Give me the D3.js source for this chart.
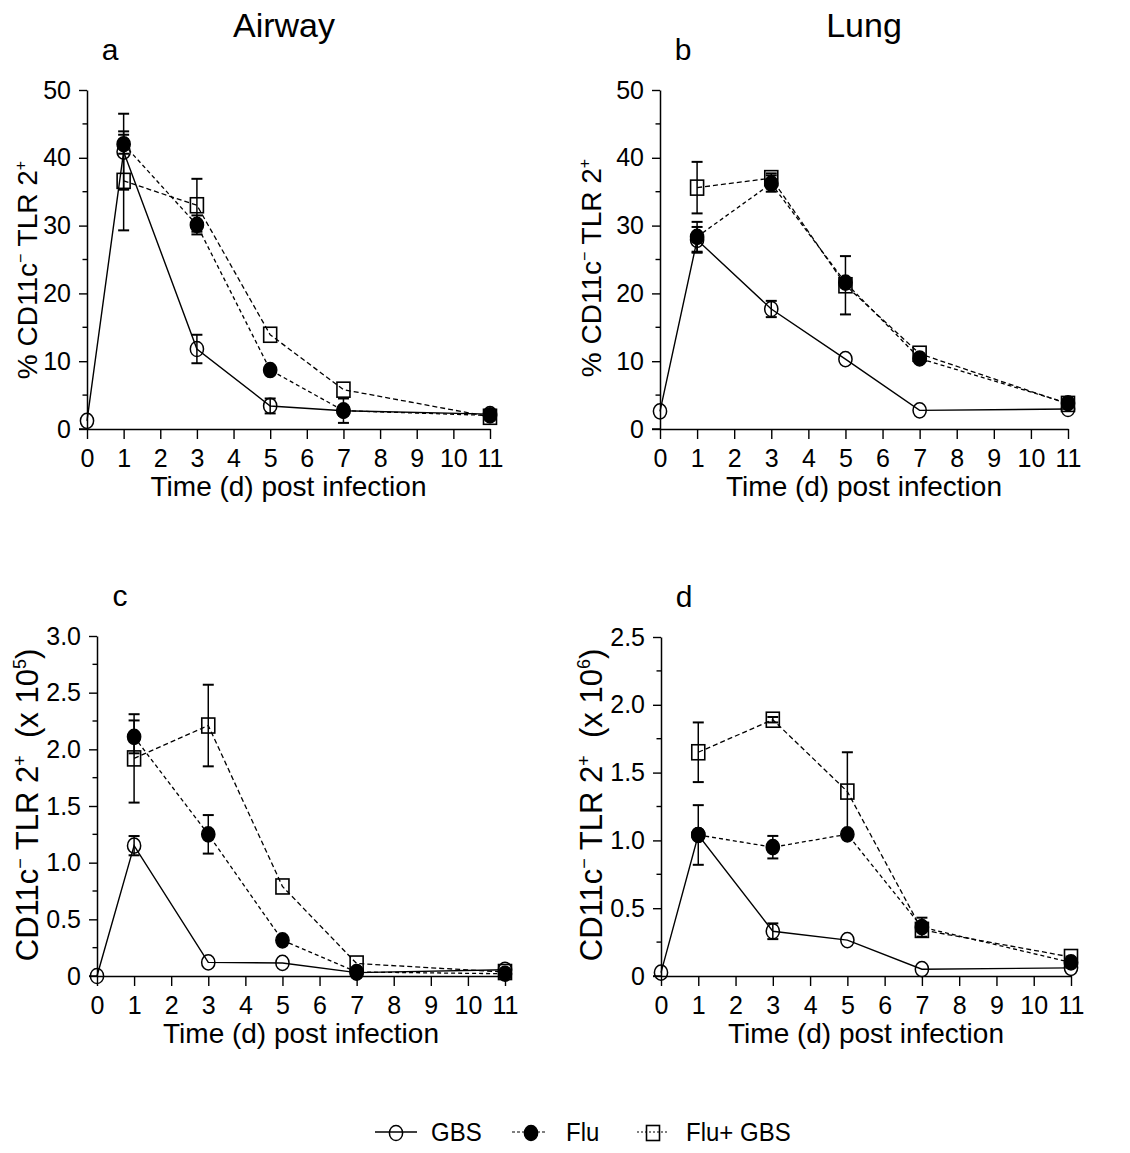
<!DOCTYPE html>
<html>
<head>
<meta charset="utf-8">
<script src="https://cdn.jsdelivr.net/npm/d3@7"></script>
<style>
  html, body { margin: 0; padding: 0; background: #fff; }
  svg { display: block; }
  text { font-family: "Liberation Sans", Arial, Helvetica, sans-serif; fill: #000; }
</style>
</head>
<body>
<svg id="chart" width="1130" height="1153"></svg>
<script>
// Sampling days
const daysGBS = [0, 1, 3, 5, 7, 11];
const daysFlu = [1, 3, 5, 7, 11];
const xTicks = [0, 1, 2, 3, 4, 5, 6, 7, 8, 9, 10, 11];

// a: airway, % CD11c- TLR2+
const airwayPctGBS = [1.2, 40.9, 11.8, 3.4, 2.7, 2.2];
const airwayPctGBSErr = [0, 5.6, 2.1, 1.1, 0, 0];
const airwayPctFlu = [42.0, 30.1, 8.7, 2.7, 2.0];
const airwayPctFluErr = [1.4, 1.4, 0, 1.8, 0];
const airwayPctCombo = [36.6, 33.0, 13.9, 5.8, 1.8];
const airwayPctComboErr = [7.3, 3.9, 0, 0, 0];

// b: lung, % CD11c- TLR2+
const lungPctGBS = [2.6, 27.9, 17.7, 10.3, 2.75, 2.95];
const lungPctGBSErr = [0, 1.9, 1.2, 0, 0, 0];
const lungPctFlu = [28.35, 36.2, 21.6, 10.4, 3.8];
const lungPctFluErr = [2.2, 1.2, 0, 0, 0];
const lungPctCombo = [35.6, 37.0, 21.2, 11.1, 3.7];
const lungPctComboErr = [3.8, 0.7, 4.3, 0, 0];

// c: airway, cell number (x 10^5)
const airwayCntGBS = [0, 1.15, 0.12, 0.115, 0.03, 0.055];
const airwayCntGBSErr = [0, 0.085, 0, 0, 0, 0];
const airwayCntFlu = [2.11, 1.25, 0.315, 0.035, 0.02];
const airwayCntFluErr = [0.145, 0.17, 0, 0, 0];
const airwayCntCombo = [1.92, 2.21, 0.79, 0.11, 0.035];
const airwayCntComboErr = [0.39, 0.36, 0, 0, 0];

// d: lung, cell number (x 10^6)
const lungCntGBS = [0.025, 1.04, 0.33, 0.265, 0.05, 0.06];
const lungCntGBSErr = [0, 0, 0.058, 0, 0, 0];
const lungCntFlu = [1.04, 0.95, 1.045, 0.36, 0.10];
const lungCntFluErr = [0.22, 0.083, 0, 0.07, 0];
const lungCntCombo = [1.65, 1.89, 1.36, 0.34, 0.14];
const lungCntComboErr = [0.22, 0.02, 0.29, 0, 0];

const seriesNames = ["GBS", "Flu", "Flu+ GBS"];
const pctTicks = [0, 10, 20, 30, 40, 50];
const pctMinor = [5, 15, 25, 35, 45];
const cnt5Ticks = [0, 0.5, 1.0, 1.5, 2.0, 2.5, 3.0];
const cnt5Minor = [0.25, 0.75, 1.25, 1.75, 2.25, 2.75];
const cnt6Ticks = [0, 0.5, 1.0, 1.5, 2.0, 2.5];
const cnt6Minor = [0.25, 0.75, 1.25, 1.75, 2.25];

const svg = d3.select("#chart");
const FONT_TICK = 25, FONT_XTITLE = 28;

const zip = (xs, ys, es) => xs.map((x, i) => ({ x, y: ys[i], e: es[i] }));

const panels = [
  { letter: "a", box: [87, 490, 90, 429], domain: [0, 50], ticks: pctTicks, minor: pctMinor,
    fmt: d3.format("d"), yTitle: { x: 37, y: 270, size: 28, main: "% CD11c", exp: null },
    gbs: zip(daysGBS, airwayPctGBS, airwayPctGBSErr),
    flu: zip(daysFlu, airwayPctFlu, airwayPctFluErr),
    combo: zip(daysFlu, airwayPctCombo, airwayPctComboErr) },
  { letter: "b", box: [660, 1068, 90, 429], domain: [0, 50], ticks: pctTicks, minor: pctMinor,
    fmt: d3.format("d"), yTitle: { x: 601, y: 268, size: 28, main: "% CD11c", exp: null },
    gbs: zip(daysGBS, lungPctGBS, lungPctGBSErr),
    flu: zip(daysFlu, lungPctFlu, lungPctFluErr),
    combo: zip(daysFlu, lungPctCombo, lungPctComboErr) },
  { letter: "c", box: [97, 505, 636, 976], domain: [0, 3], ticks: cnt5Ticks, minor: cnt5Minor,
    fmt: d => d === 0 ? "0" : d3.format(".1f")(d), yTitle: { x: 38, y: 805, size: 31, main: "CD11c", exp: "5" },
    gbs: zip(daysGBS, airwayCntGBS, airwayCntGBSErr),
    flu: zip(daysFlu, airwayCntFlu, airwayCntFluErr),
    combo: zip(daysFlu, airwayCntCombo, airwayCntComboErr) },
  { letter: "d", box: [661, 1071, 637, 976], domain: [0, 2.5], ticks: cnt6Ticks, minor: cnt6Minor,
    fmt: d => d === 0 ? "0" : d3.format(".1f")(d), yTitle: { x: 602, y: 805, size: 31, main: "CD11c", exp: "6" },
    gbs: zip(daysGBS, lungCntGBS, lungCntGBSErr),
    flu: zip(daysFlu, lungCntFlu, lungCntFluErr),
    combo: zip(daysFlu, lungCntCombo, lungCntComboErr) }
];

// Column headings
svg.append("text").attr("x", 284).attr("y", 37).attr("text-anchor", "middle")
  .style("font-size", "34px").text("Airway");
svg.append("text").attr("x", 864).attr("y", 37).attr("text-anchor", "middle")
  .style("font-size", "34px").text("Lung");

function drawOpenCircle(g, cx, cy, filled) {
  g.append("ellipse").attr("cx", cx).attr("cy", cy).attr("rx", 6.6).attr("ry", 7.6)
    .attr("fill", filled ? "#000" : "none").attr("stroke", "#000").attr("stroke-width", 1.5);
}
function drawSquare(g, cx, cy) {
  g.append("rect").attr("x", cx - 6.5).attr("y", cy - 7.5).attr("width", 13).attr("height", 15)
    .attr("fill", "none").attr("stroke", "#000").attr("stroke-width", 1.6);
}

panels.forEach(p => {
  const [x0, x1, y0, y1] = p.box;
  const x = d3.scaleLinear().domain([0, 11]).range([x0, x1]);
  const y = d3.scaleLinear().domain(p.domain).range([y1, y0]);
  const g = svg.append("g");

  // x axis
  const gx = g.append("g").attr("transform", `translate(0,${y1})`)
    .call(d3.axisBottom(x).tickValues(xTicks).tickSize(10).tickSizeOuter(0).tickPadding(8).tickFormat(d3.format("d")));
  // y axis
  const gy = g.append("g").attr("transform", `translate(${x0},0)`)
    .call(d3.axisLeft(y).tickValues(p.ticks).tickSize(8).tickSizeOuter(0).tickPadding(8).tickFormat(p.fmt));
  // minor y ticks
  g.append("g").selectAll("line").data(p.minor).join("line")
    .attr("x1", x0 - 4.5).attr("x2", x0).attr("y1", d => y(d)).attr("y2", d => y(d))
    .attr("stroke", "#000").attr("stroke-width", 1.4);
  [gx, gy].forEach(a => {
    a.select(".domain").attr("stroke", "#000").attr("stroke-width", 1.5);
    a.selectAll(".tick line").attr("stroke", "#000").attr("stroke-width", 1.4);
    a.selectAll(".tick text").style("font-size", FONT_TICK + "px").attr("fill", "#000")
      .style("font-family", '"Liberation Sans", Arial, sans-serif');
  });
  gx.selectAll(".tick text").attr("dy", "0.78em");
  // extend x axis baseline to the zero tick on the y axis
  g.append("line").attr("x1", x0 - 8).attr("x2", x0).attr("y1", y1).attr("y2", y1)
    .attr("stroke", "#000").attr("stroke-width", 1.5);

  // x-axis title
  g.append("text").attr("text-anchor", "middle")
    .attr("x", (x0 + x1) / 2).attr("y", y1 + 67)
    .style("font-size", FONT_XTITLE + "px").text("Time (d) post infection");

  // y-axis title with superscripts
  const fs = p.yTitle.size, supFs = Math.round(fs * 0.58), up = Math.round(fs * 0.4);
  const yt = g.append("text").attr("text-anchor", "middle")
    .attr("transform", `translate(${p.yTitle.x},${p.yTitle.y}) rotate(-90)`)
    .style("font-size", fs + "px");
  const sup = s => yt.append("tspan").attr("dy", -up).style("font-size", supFs + "px").text(s);
  const base = s => yt.append("tspan").attr("dy", up).text(s);
  yt.append("tspan").text(p.yTitle.main);
  sup("\u2212");
  base(" TLR 2");
  sup("+");
  if (p.yTitle.exp) {
    base("\u00a0\u00a0(x 10");
    sup(p.yTitle.exp);
    base(")");
  }

  // panel letter
  g.append("text").attr("x", x0 + 23).attr("y", y0 - 30).attr("text-anchor", "middle")
    .style("font-size", "30px").text(p.letter);

  // lines
  const line = d3.line().x(d => x(d.x)).y(d => y(d.y));
  g.append("path").datum(p.combo).attr("d", line).attr("fill", "none")
    .attr("stroke", "#000").attr("stroke-width", 1.3).attr("stroke-dasharray", "5,3");
  g.append("path").datum(p.flu).attr("d", line).attr("fill", "none")
    .attr("stroke", "#000").attr("stroke-width", 1.3).attr("stroke-dasharray", "4,3");
  g.append("path").datum(p.gbs).attr("d", line).attr("fill", "none")
    .attr("stroke", "#000").attr("stroke-width", 1.4);

  // error bars
  const errs = [].concat(p.combo, p.gbs, p.flu).filter(d => d.e > 0);
  const eb = g.append("g").attr("stroke", "#000");
  errs.forEach(d => {
    const cx = x(d.x), top = y(d.y + d.e), bot = y(d.y - d.e);
    eb.append("line").attr("x1", cx).attr("x2", cx).attr("y1", top).attr("y2", bot).attr("stroke-width", 1.5);
    eb.append("line").attr("x1", cx - 5.5).attr("x2", cx + 5.5).attr("y1", top).attr("y2", top).attr("stroke-width", 2);
    eb.append("line").attr("x1", cx - 5.5).attr("x2", cx + 5.5).attr("y1", bot).attr("y2", bot).attr("stroke-width", 2);
  });

  // markers
  p.combo.forEach(d => drawSquare(g, x(d.x), y(d.y)));
  p.gbs.forEach(d => drawOpenCircle(g, x(d.x), y(d.y), false));
  p.flu.forEach(d => drawOpenCircle(g, x(d.x), y(d.y), true));
});

// legend
const lg = svg.append("g");
const ly = 1132;
const legendItems = [
  { name: seriesNames[0], x1: 375, x2: 417, mx: 396, kind: "open", dash: null, tx: 431 },
  { name: seriesNames[1], x1: 512, x2: 546, mx: 531, kind: "filled", dash: "3,2", tx: 566 },
  { name: seriesNames[2], x1: 637, x2: 669, mx: 653, kind: "square", dash: "2,2", tx: 686 }
];
legendItems.forEach(it => {
  lg.append("line").attr("x1", it.x1).attr("x2", it.x2).attr("y1", ly).attr("y2", ly)
    .attr("stroke", "#000").attr("stroke-width", it.dash ? 1.2 : 1.5)
    .attr("stroke-dasharray", it.dash);
  if (it.kind === "square") drawSquare(lg, it.mx, ly + 1);
  else drawOpenCircle(lg, it.mx, ly + 1, it.kind === "filled");
  lg.append("text").attr("transform", `translate(${it.tx},${ly + 9}) scale(1,1.08)`)
    .style("font-size", "24px").text(it.name);
});
</script>
</body>
</html>
